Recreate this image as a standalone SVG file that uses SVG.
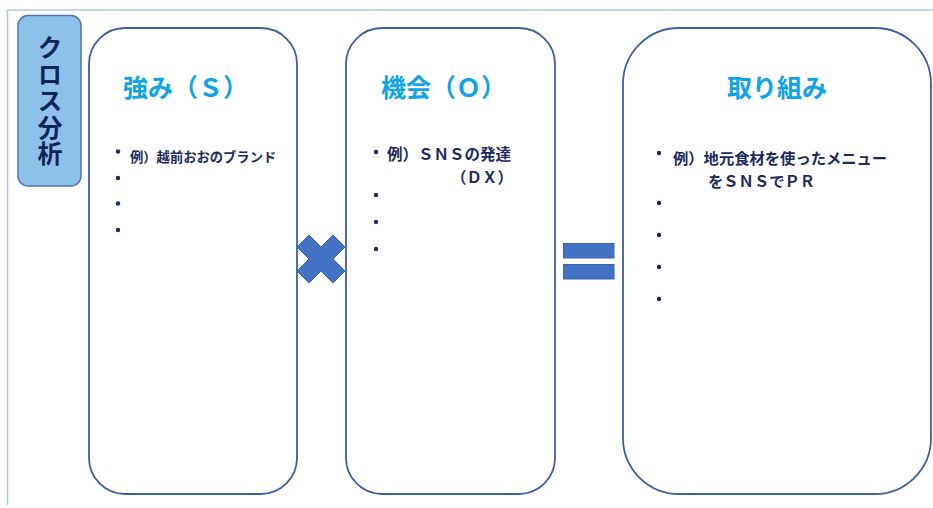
<svg xmlns="http://www.w3.org/2000/svg" width="933" height="508" viewBox="0 0 933 508">
<style>
.card{fill:#ffffff;stroke:#3f5fa3;stroke-width:1.8}
.title{font-family:"Noto Sans CJK JP","Noto Sans",sans-serif;font-weight:700;font-size:25px;fill:#0fa3e8;text-anchor:middle}
.item{font-family:"Noto Sans CJK JP","Noto Sans",sans-serif;font-weight:700;fill:#1c2a5e}
.vt{font-family:"Noto Sans CJK JP","Noto Sans",sans-serif;font-weight:700;font-size:25px;fill:#0f2557;writing-mode:vertical-rl;letter-spacing:1.5px}
.dot{fill:#1c2a5e}
.sym{fill:#4472c4;stroke:#3a62ad;stroke-width:1}
</style>
<rect x="0" y="0" width="933" height="508" fill="#ffffff"/>
<g id="frame" fill="none" stroke="#b4c7e7" stroke-width="1.5">
<line x1="7.5" y1="10" x2="933" y2="10"/>
<line x1="7.5" y1="10" x2="7.5" y2="505"/>
</g>
<g id="label">
<rect x="18" y="15.5" width="63" height="170.5" rx="10" fill="#8ec1ea" stroke="#4f74b0" stroke-width="1.5"/>
<text class="vt" x="50" y="35">クロス分析</text>
</g>
<g id="strength">
<rect class="card" x="89" y="28" width="208" height="466" rx="36"/>
<text class="title" x="185.5" y="97">強み（Ｓ）</text>
<circle class="dot" cx="118" cy="151.5" r="2.2"/>
<text class="item" x="130" y="161.5" font-size="13.3">例）越前おおのブランド</text>
<circle class="dot" cx="118" cy="178" r="2.2"/>
<circle class="dot" cx="118" cy="203.5" r="2.2"/>
<circle class="dot" cx="118" cy="230" r="2.2"/>
</g>
<g id="opportunity">
<rect class="card" x="346" y="28" width="209" height="466" rx="36"/>
<text class="title" x="443.5" y="97">機会（Ｏ）</text>
<circle class="dot" cx="376" cy="152" r="2.2"/>
<text class="item" x="387" y="160" font-size="15.5">例）ＳＮＳの発達</text>
<text class="item" x="513" y="183" font-size="15.5" text-anchor="end">（ＤＸ）</text>
<circle class="dot" cx="376" cy="195" r="2.2"/>
<circle class="dot" cx="376" cy="222" r="2.2"/>
<circle class="dot" cx="376" cy="249" r="2.2"/>
</g>
<g id="action">
<rect class="card" x="623" y="28" width="308" height="466" rx="56"/>
<text class="title" x="777" y="97">取り組み</text>
<circle class="dot" cx="659" cy="153" r="2.2"/>
<text class="item" x="673" y="164" font-size="15.3">例）地元食材を使ったメニュー</text>
<text class="item" x="708" y="187" font-size="15.3">をＳＮＳでＰＲ</text>
<circle class="dot" cx="659" cy="203" r="2.2"/>
<circle class="dot" cx="659" cy="235" r="2.2"/>
<circle class="dot" cx="659" cy="267" r="2.2"/>
<circle class="dot" cx="659" cy="299" r="2.2"/>
</g>
<g id="connectors">
<g id="times">
<path class="sym" d="M309,235 L321,247 L333,235 L345,247 L333,259 L345,271 L333,283 L321,271 L309,283 L297,271 L309,259 L297,247 Z"/>
</g>
<g id="equals">
<rect class="sym" x="563.5" y="243.5" width="50.5" height="14.5"/>
<rect class="sym" x="563.5" y="264.5" width="50.5" height="14.5"/>
</g>
</g>
</svg>
